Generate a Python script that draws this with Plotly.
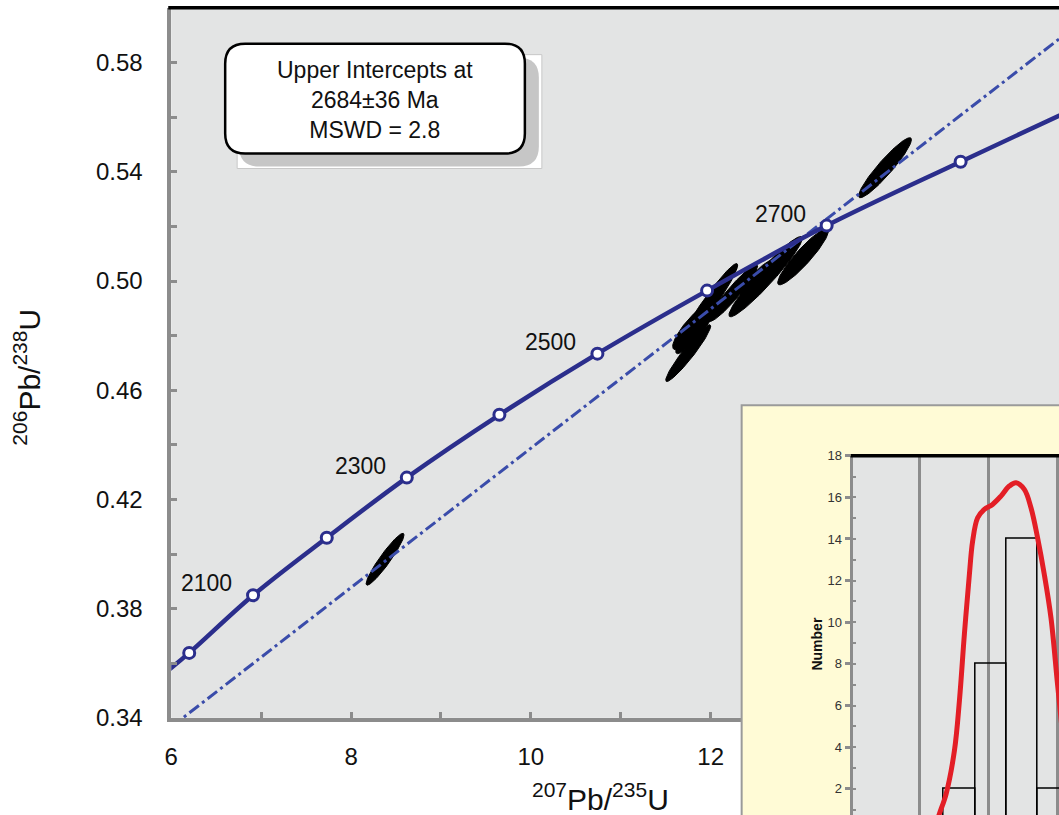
import numpy as np
import plotly.graph_objects as go

W, H = 1059, 829

# ---------------- data ----------------
conc_age = [2000, 2100, 2200, 2300, 2400, 2500, 2600, 2700, 2800]
conc_x = [6.20, 6.91, 7.73, 8.62, 9.65, 10.74, 11.96, 13.29, 14.78]
conc_y = [0.3638, 0.3849, 0.4060, 0.4280, 0.4510, 0.4734, 0.4965, 0.5203, 0.5437]
labelled_ages = [2100, 2300, 2500, 2700]
conc_line_x = [5.9] + conc_x + [16.0]
conc_line_y = [0.3556] + conc_y + [0.5625]

disc_x = [6.0, 15.9]
disc_y = [0.3367, 0.5893]

ell_x = [13.028, 12.611, 12.544, 12.250, 11.972, 11.833, 11.822, 11.750, 8.378, 13.939]
ell_y = [0.5089, 0.5016, 0.5009, 0.4956, 0.4912, 0.4840, 0.4820, 0.4736, 0.3981, 0.5415]
ell_sx = [0.283, 0.408, 0.211, 0.272, 0.328, 0.256, 0.211, 0.250, 0.211, 0.294]
ell_sy = [0.0103, 0.0147, 0.0073, 0.0104, 0.0152, 0.0092, 0.0086, 0.0104, 0.0095, 0.0110]
ell_rho = [0.92, 0.955, 0.84, 0.945, 0.962, 0.86, 0.90, 0.95, 0.94, 0.935]

hist_centers = [2557.75, 2603.25, 2648.75, 2694.25]
hist_counts = [2, 8, 14, 2]
hist_width = 45.5
pdf_x = [2521, 2528.5, 2538.3, 2550.4, 2557.7, 2565, 2572.3, 2577, 2584.3, 2594,
         2606, 2618.3, 2630.4, 2640.2, 2652.3, 2662, 2671.6, 2681.4, 2691.1, 2700.7, 2710]
pdf_y = [0, 0.79, 1.75, 3.82, 6.22, 9.44, 12.32, 13.9, 15.02, 15.42,
         15.66, 16.06, 16.54, 16.70, 16.38, 15.5, 14.06, 12.30, 10.22, 7.02, 4.0]

box_lines = ["Upper Intercepts at", "2684±36 Ma", "MSWD = 2.8"]

# ---------------- styling ----------------
FONT = "Liberation Sans, Arial, sans-serif"
NAVY = "#2b2e8c"
DASHBLUE = "#3a4caa"
AXGRAY = "#8c8c8c"
BG = "#e3e4e4"

# mapping from target-picture pixels to figure pixels (measured)
SX, OX = 0.9944, 6.6
SY, OY = 0.977, 5.3


def PX(x):
    return ((x - OX) / SX) / W


def PY(y):
    return 1 - ((y - OY) / SY) / H


SCREEN_R = W * SX + OX          # right edge of figure in target pixels
SCREEN_B = H * SY + OY          # bottom edge of figure in target pixels

fig = go.Figure()

t = np.linspace(0, 2 * np.pi, 120)
for cx, cy, sx, sy, r in zip(ell_x, ell_y, ell_sx, ell_sy, ell_rho):
    ex = cx + sx * np.cos(t)
    ey = cy + sy * (r * np.cos(t) + np.sqrt(1 - r * r) * np.sin(t))
    fig.add_trace(go.Scatter(x=ex, y=ey, mode="lines", fill="toself",
                             fillcolor="black", line=dict(color="black", width=1),
                             hoverinfo="skip", showlegend=False))

fig.add_trace(go.Scatter(x=disc_x, y=disc_y, mode="lines",
                         line=dict(color=DASHBLUE, width=3, dash="12px,4px,3px,4px"),
                         showlegend=False))
fig.add_trace(go.Scatter(x=conc_line_x, y=conc_line_y, mode="lines",
                         line=dict(color=NAVY, width=4.5, shape="spline"),
                         showlegend=False))
fig.add_trace(go.Scatter(x=conc_x, y=conc_y, mode="markers",
                         marker=dict(size=11, color="white", line=dict(color=NAVY, width=3)),
                         showlegend=False))

fig.add_trace(go.Scatter(x=[-0.01, 1.01, 1.01, -0.01, -0.01], y=[-0.01, -0.01, 1.01, 1.01, -0.01],
                         mode="lines", fill="toself", fillcolor="#fffbd6",
                         line=dict(width=0), xaxis="x2", yaxis="y2",
                         hoverinfo="skip", showlegend=False))

fig.add_trace(go.Bar(x=hist_centers, y=hist_counts, width=hist_width,
                     marker=dict(color="rgba(0,0,0,0)", line=dict(color="black", width=1.5)),
                     xaxis="x3", yaxis="y3", showlegend=False))
fig.add_trace(go.Scatter(x=pdf_x, y=pdf_y, mode="lines",
                         line=dict(color="#e31e26", width=5, shape="spline"),
                         xaxis="x3", yaxis="y3", showlegend=False))

annotations = []
for a, x, y in zip(conc_age, conc_x, conc_y):
    if a in labelled_ages:
        annotations.append(dict(x=x, y=y, xref="x", yref="y", text=str(a), showarrow=False,
                                xanchor="right", yanchor="middle", xshift=-19, yshift=12,
                                font=dict(family=FONT, size=23, color="#111")))

annotations += [
    dict(x=PX(601), y=PY(796), xref="paper", yref="paper", showarrow=False,
         text="<sup>207</sup>Pb/<sup>235</sup>U", xanchor="center", yanchor="middle",
         font=dict(family=FONT, size=30, color="#111")),
    dict(x=PX(27), y=PY(376), xref="paper", yref="paper", showarrow=False, textangle=-90,
         text="<sup>206</sup>Pb/<sup>238</sup>U", xanchor="center", yanchor="middle",
         font=dict(family=FONT, size=30, color="#111")),
    dict(x=PX(375), y=PY(98), xref="paper", yref="paper", showarrow=False,
         text="<br>".join(box_lines), align="center", xanchor="center", yanchor="middle",
         font=dict(family=FONT, size=23, color="#111")),
    dict(x=PX(817), y=PY(643), xref="paper", yref="paper", showarrow=False, textangle=-90,
         text="<b>Number</b>", xanchor="center", yanchor="middle",
         font=dict(family=FONT, size=14, color="#111")),
]


def rrect(x0, y0, x1, y1, r):
    return (f"M {PX(x0 + r)},{PY(y0)} L {PX(x1 - r)},{PY(y0)} "
            f"Q {PX(x1)},{PY(y0)} {PX(x1)},{PY(y0 + r)} L {PX(x1)},{PY(y1 - r)} "
            f"Q {PX(x1)},{PY(y1)} {PX(x1 - r)},{PY(y1)} L {PX(x0 + r)},{PY(y1)} "
            f"Q {PX(x0)},{PY(y1)} {PX(x0)},{PY(y1 - r)} L {PX(x0)},{PY(y0 + r)} "
            f"Q {PX(x0)},{PY(y0)} {PX(x0 + r)},{PY(y0)} Z")


shapes = [
    dict(type="line", xref="paper", yref="paper", x0=PX(168), x1=1, y0=PY(6), y1=PY(6),
         line=dict(color="black", width=3.5), layer="above"),
    dict(type="rect", xref="paper", yref="paper", x0=PX(237), x1=PX(542), y0=PY(167), y1=PY(53),
         fillcolor="white", line=dict(color="#c8c8c8", width=1), layer="above"),
    dict(type="path", xref="paper", yref="paper", path=rrect(239, 56, 539, 165, 20),
         fillcolor="#c6c6c6", line=dict(width=0), layer="above"),
    dict(type="path", xref="paper", yref="paper", path=rrect(225, 42, 525, 152, 20),
         fillcolor="white", line=dict(color="black", width=2.5), layer="above"),
    dict(type="path", xref="paper", yref="paper",
         path=f"M {PX(742)},-0.01 L {PX(742)},{PY(404)} L 1.001,{PY(404)}",
         line=dict(color="#9a9a9a", width=2), layer="above"),
    dict(type="line", xref="paper", yref="paper", x0=PX(851), x1=1, y0=PY(454.5), y1=PY(454.5),
         line=dict(color="black", width=3.5), layer="above"),
]

fig.update_layout(
    width=W, height=H,
    margin=dict(l=0, r=0, t=0, b=0),
    paper_bgcolor="white", plot_bgcolor=BG,
    showlegend=False, bargap=0,
    font=dict(family=FONT, color="#111"),
    annotations=annotations, shapes=shapes,
    xaxis=dict(domain=[PX(171), 1], range=[6, 6 + (SCREEN_R - 171) / 90], anchor="y",
               showgrid=False, zeroline=False, showline=True, linecolor=AXGRAY, linewidth=3.5,
               ticks="inside", ticklen=6, tickwidth=3, tickcolor=AXGRAY, dtick=2, tick0=6,
               minor=dict(dtick=1, ticks="inside", ticklen=6, tickwidth=3, tickcolor=AXGRAY),
               tickfont=dict(family=FONT, size=24, color="#111"), ticklabelstandoff=15),
    yaxis=dict(domain=[PY(717), PY(6.3)], range=[0.34, 0.60], anchor="x",
               showgrid=False, zeroline=False, showline=True, linecolor=AXGRAY, linewidth=3.5,
               ticks="inside", ticklen=6, tickwidth=3, tickcolor=AXGRAY, dtick=0.04, tick0=0.34,
               tickformat=".2f",
               minor=dict(dtick=0.02, ticks="inside", ticklen=6, tickwidth=3, tickcolor=AXGRAY),
               tickfont=dict(family=FONT, size=24, color="#111"), ticklabelstandoff=20),
    xaxis2=dict(domain=[PX(742), 1], range=[0, 1], anchor="y2", visible=False),
    yaxis2=dict(domain=[0, PY(404)], range=[0, 1], anchor="x2", visible=False),
    xaxis3=dict(domain=[PX(853), 1], range=[2402, 2402 + (SCREEN_R - 853) / 0.687], anchor="y3",
                showgrid=True, gridcolor=AXGRAY, gridwidth=3, dtick=100, tick0=2400,
                zeroline=False, showline=False, showticklabels=False, ticks=""),
    yaxis3=dict(domain=[0, PY(454.5)], range=[(829.7 - SCREEN_B) / 20.84, 18], anchor="x3",
                showgrid=False, zeroline=False, showline=True, linecolor=AXGRAY, linewidth=3,
                ticks="outside", ticklen=5, tickwidth=2.5, tickcolor=AXGRAY, dtick=2, tick0=0,
                minor=dict(dtick=1, ticks="inside", ticklen=3, tickwidth=2, tickcolor=AXGRAY),
                tickfont=dict(family="Liberation Sans Narrow, Arial Narrow, " + FONT, size=13,
                              color="#333")),
)

fig.write_html("out.html")
